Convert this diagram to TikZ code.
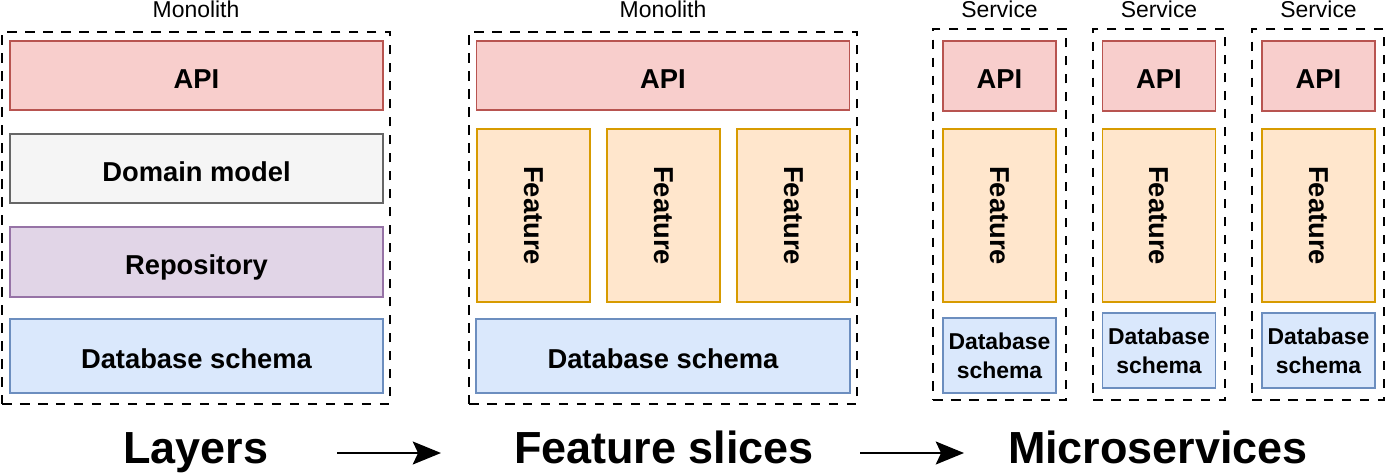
\documentclass[tikz,border=0pt]{standalone}
\usepackage{fontspec}
\setmainfont{Liberation Sans}
\usetikzlibrary{arrows.meta}
\definecolor{apifill}{HTML}{F8CECC}\definecolor{apidraw}{HTML}{B85450}
\definecolor{domfill}{HTML}{F5F5F5}\definecolor{domdraw}{HTML}{666666}
\definecolor{repfill}{HTML}{E1D5E7}\definecolor{repdraw}{HTML}{9673A6}
\definecolor{dbfill}{HTML}{DAE8FC}\definecolor{dbdraw}{HTML}{6C8EBF}
\definecolor{featfill}{HTML}{FFE6CC}\definecolor{featdraw}{HTML}{D79B00}
\tikzset{
  sz/.style 2 args={minimum width=#1*0.567pt, minimum height=#2*0.567pt},
  grp/.style={draw=black, line width=1.5pt, dash pattern=on 5.4pt off 4.8pt, inner sep=0pt, outer sep=0pt},
  box/.style={draw, line width=1.05pt, inner sep=0pt, outer sep=0pt, align=center,
              font=\fontsize{15.5}{18}\selectfont\bfseries},
  oneline/.style={text height=14.5pt, text depth=0pt},
  api/.style={box, oneline, fill=apifill, draw=apidraw},
  dom/.style={box, oneline, fill=domfill, draw=domdraw},
  rep/.style={box, oneline, fill=repfill, draw=repdraw},
  db/.style={box, oneline, fill=dbfill, draw=dbdraw},
  dbs/.style={box, fill=dbfill, draw=dbdraw, font=\fontsize{13}{16.4}\selectfont\bfseries},
  feat/.style={box, fill=featfill, draw=featdraw},
  ftext/.style={rotate=-90, inner sep=0pt, font=\fontsize{15.5}{18}\selectfont\bfseries},
  toplabel/.style={anchor=base, inner sep=0pt, font=\fontsize{13}{15}\selectfont},
  biglabel/.style={anchor=base, inner sep=0pt, font=\fontsize{25.5}{30}\selectfont\bfseries},
  flow/.style={line width=1.3pt, -{Stealth[length=16pt, width=13pt, inset=3pt]}}
}
\begin{document}
\begin{tikzpicture}[x=0.567pt, y=-0.567pt]
\useasboundingbox (0,0) rectangle (1386,475);
% ---- Layers monolith
\node[grp, sz={388}{372}] (m1) at (196,218) {};
\node[toplabel] (m1l) at (196,17) {Monolith};
\node[api, sz={373}{69}] (l-api) at (196.5,75.5) {API};
\node[dom, sz={373}{69}] (l-dom) at (196.5,168.5) {Domain model};
\node[rep, sz={373}{70}] (l-rep) at (196.5,262) {Repository};
\node[db, sz={373}{74}] (l-db) at (196.5,356) {Database schema};
% ---- Feature slices monolith
\node[grp, sz={388}{372}] (m2) at (663,218) {};
\node[toplabel] (m2l) at (663,17) {Monolith};
\node[api, sz={373}{69}] (f-api) at (663,75.5) {API};
\foreach \n/\x in {1/533.5,2/663.5,3/793.5}{
  \node[feat, sz={113}{173}] (f-feat\n) at (\x,215.5) {};
  \node[ftext] (f-feat\n-t) at (f-feat\n) {Feature};
}
\node[db, sz={374}{74}] (f-db) at (663,356) {Database schema};
% ---- Microservices
\foreach \n/\gx/\gw/\x/\dy in {1/999.5/133/999.5/355.5, 2/1159/132/1159/350.5, 3/1318/132/1318.5/350.5}{
  \node[grp, sz={\gw}{371}] (s\n) at (\gx,214.5) {};
  \node[toplabel] (s\n-l) at (\x,17) {Service};
  \node[api, sz={113}{70}] (s\n-api) at (\x,76) {API};
  \node[feat, sz={113}{173}] (s\n-feat) at (\x,215.5) {};
  \node[ftext] (s\n-feat-t) at (s\n-feat) {Feature};
  \node[dbs, sz={113}{75}] (s\n-db) at (\x,\dy) {Database\\schema};
}
% ---- Bottom labels and arrows
\node[biglabel] (layers) at (196,463) {Layers};
\node[biglabel] (slices) at (664,463) {Feature slices};
\node[biglabel] (micro) at (1158,463) {Microservices};
\coordinate (a1s) at (337,453);
\coordinate (a1e) at (441,453);
\coordinate (a2s) at (860,453);
\coordinate (a2e) at (964,453);
\draw[flow] (a1s) -- (a1e);
\draw[flow] (a2s) -- (a2e);
\end{tikzpicture}
\end{document}
